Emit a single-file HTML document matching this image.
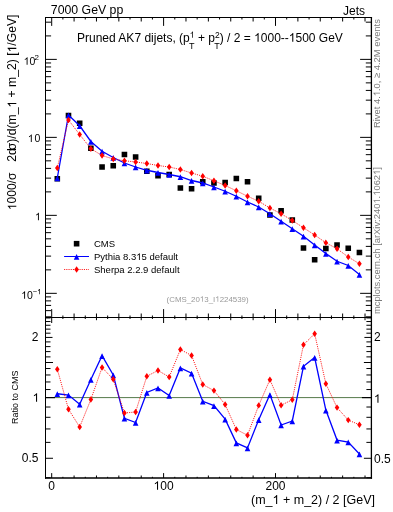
<!DOCTYPE html><html><head><meta charset="utf-8"><style>html,body{margin:0;padding:0;background:#fff;width:393px;height:512px;overflow:hidden}svg{display:block;will-change:transform}.h1{fill-opacity:0}text{font-family:"Liberation Sans",sans-serif;fill:#000}</style></head><body>
<svg width="393" height="512" viewBox="0 0 393 512">
<line x1="45.50" y1="397.60" x2="371.40" y2="397.60" stroke="#557a4a" stroke-width="1" />
<path d="M51.70 17.50L51.70 25.90M51.70 317.50L51.70 309.10M51.70 317.50L51.70 323.00M51.70 478.00L51.70 473.10M62.89 17.50L62.89 19.50M62.89 317.50L62.89 315.50M62.89 317.50L62.89 319.00M62.89 478.00L62.89 476.80M74.08 17.50L74.08 21.50M74.08 317.50L74.08 313.50M74.08 317.50L74.08 320.20M74.08 478.00L74.08 475.50M85.27 17.50L85.27 19.50M85.27 317.50L85.27 315.50M85.27 317.50L85.27 319.00M85.27 478.00L85.27 476.80M96.46 17.50L96.46 21.50M96.46 317.50L96.46 313.50M96.46 317.50L96.46 320.20M96.46 478.00L96.46 475.50M107.65 17.50L107.65 19.50M107.65 317.50L107.65 315.50M107.65 317.50L107.65 319.00M107.65 478.00L107.65 476.80M118.84 17.50L118.84 21.50M118.84 317.50L118.84 313.50M118.84 317.50L118.84 320.20M118.84 478.00L118.84 475.50M130.03 17.50L130.03 19.50M130.03 317.50L130.03 315.50M130.03 317.50L130.03 319.00M130.03 478.00L130.03 476.80M141.22 17.50L141.22 21.50M141.22 317.50L141.22 313.50M141.22 317.50L141.22 320.20M141.22 478.00L141.22 475.50M152.41 17.50L152.41 19.50M152.41 317.50L152.41 315.50M152.41 317.50L152.41 319.00M152.41 478.00L152.41 476.80M163.60 17.50L163.60 25.90M163.60 317.50L163.60 309.10M163.60 317.50L163.60 323.00M163.60 478.00L163.60 473.10M174.79 17.50L174.79 19.50M174.79 317.50L174.79 315.50M174.79 317.50L174.79 319.00M174.79 478.00L174.79 476.80M185.98 17.50L185.98 21.50M185.98 317.50L185.98 313.50M185.98 317.50L185.98 320.20M185.98 478.00L185.98 475.50M197.17 17.50L197.17 19.50M197.17 317.50L197.17 315.50M197.17 317.50L197.17 319.00M197.17 478.00L197.17 476.80M208.36 17.50L208.36 21.50M208.36 317.50L208.36 313.50M208.36 317.50L208.36 320.20M208.36 478.00L208.36 475.50M219.55 17.50L219.55 19.50M219.55 317.50L219.55 315.50M219.55 317.50L219.55 319.00M219.55 478.00L219.55 476.80M230.74 17.50L230.74 21.50M230.74 317.50L230.74 313.50M230.74 317.50L230.74 320.20M230.74 478.00L230.74 475.50M241.93 17.50L241.93 19.50M241.93 317.50L241.93 315.50M241.93 317.50L241.93 319.00M241.93 478.00L241.93 476.80M253.12 17.50L253.12 21.50M253.12 317.50L253.12 313.50M253.12 317.50L253.12 320.20M253.12 478.00L253.12 475.50M264.31 17.50L264.31 19.50M264.31 317.50L264.31 315.50M264.31 317.50L264.31 319.00M264.31 478.00L264.31 476.80M275.50 17.50L275.50 25.90M275.50 317.50L275.50 309.10M275.50 317.50L275.50 323.00M275.50 478.00L275.50 473.10M286.69 17.50L286.69 19.50M286.69 317.50L286.69 315.50M286.69 317.50L286.69 319.00M286.69 478.00L286.69 476.80M297.88 17.50L297.88 21.50M297.88 317.50L297.88 313.50M297.88 317.50L297.88 320.20M297.88 478.00L297.88 475.50M309.07 17.50L309.07 19.50M309.07 317.50L309.07 315.50M309.07 317.50L309.07 319.00M309.07 478.00L309.07 476.80M320.26 17.50L320.26 21.50M320.26 317.50L320.26 313.50M320.26 317.50L320.26 320.20M320.26 478.00L320.26 475.50M331.45 17.50L331.45 19.50M331.45 317.50L331.45 315.50M331.45 317.50L331.45 319.00M331.45 478.00L331.45 476.80M342.64 17.50L342.64 21.50M342.64 317.50L342.64 313.50M342.64 317.50L342.64 320.20M342.64 478.00L342.64 475.50M353.83 17.50L353.83 19.50M353.83 317.50L353.83 315.50M353.83 317.50L353.83 319.00M353.83 478.00L353.83 476.80M365.02 17.50L365.02 21.50M365.02 317.50L365.02 313.50M365.02 317.50L365.02 320.20M365.02 478.00L365.02 475.50M45.50 316.80L51.10 316.80M371.40 316.80L365.80 316.80M45.50 310.63L51.10 310.63M371.40 310.63L365.80 310.63M45.50 305.41L51.10 305.41M371.40 305.41L365.80 305.41M45.50 300.89L51.10 300.89M371.40 300.89L365.80 300.89M45.50 296.90L51.10 296.90M371.40 296.90L365.80 296.90M45.50 293.33L56.80 293.33M371.40 293.33L360.10 293.33M45.50 269.86L51.10 269.86M371.40 269.86L365.80 269.86M45.50 256.12L51.10 256.12M371.40 256.12L365.80 256.12M45.50 246.38L51.10 246.38M371.40 246.38L365.80 246.38M45.50 238.82L51.10 238.82M371.40 238.82L365.80 238.82M45.50 232.65L51.10 232.65M371.40 232.65L365.80 232.65M45.50 227.43L51.10 227.43M371.40 227.43L365.80 227.43M45.50 222.91L51.10 222.91M371.40 222.91L365.80 222.91M45.50 218.92L51.10 218.92M371.40 218.92L365.80 218.92M45.50 215.35L56.80 215.35M371.40 215.35L360.10 215.35M45.50 191.88L51.10 191.88M371.40 191.88L365.80 191.88M45.50 178.14L51.10 178.14M371.40 178.14L365.80 178.14M45.50 168.40L51.10 168.40M371.40 168.40L365.80 168.40M45.50 160.84L51.10 160.84M371.40 160.84L365.80 160.84M45.50 154.67L51.10 154.67M371.40 154.67L365.80 154.67M45.50 149.45L51.10 149.45M371.40 149.45L365.80 149.45M45.50 144.93L51.10 144.93M371.40 144.93L365.80 144.93M45.50 140.94L51.10 140.94M371.40 140.94L365.80 140.94M45.50 137.37L56.80 137.37M371.40 137.37L360.10 137.37M45.50 113.90L51.10 113.90M371.40 113.90L365.80 113.90M45.50 100.16L51.10 100.16M371.40 100.16L365.80 100.16M45.50 90.42L51.10 90.42M371.40 90.42L365.80 90.42M45.50 82.86L51.10 82.86M371.40 82.86L365.80 82.86M45.50 76.69L51.10 76.69M371.40 76.69L365.80 76.69M45.50 71.47L51.10 71.47M371.40 71.47L365.80 71.47M45.50 66.95L51.10 66.95M371.40 66.95L365.80 66.95M45.50 62.96L51.10 62.96M371.40 62.96L365.80 62.96M45.50 59.39L56.80 59.39M371.40 59.39L360.10 59.39M45.50 35.92L51.10 35.92M371.40 35.92L365.80 35.92M45.50 22.18L51.10 22.18M371.40 22.18L365.80 22.18M45.50 477.72L50.50 477.72M371.40 477.72L366.40 477.72M45.50 458.27L53.00 458.27M371.40 458.27L363.90 458.27M45.50 442.38L50.50 442.38M371.40 442.38L366.40 442.38M45.50 428.94L50.50 428.94M371.40 428.94L366.40 428.94M45.50 417.30L50.50 417.30M371.40 417.30L366.40 417.30M45.50 407.03L50.50 407.03M371.40 407.03L366.40 407.03M45.50 389.54L50.50 389.54M371.40 389.54L366.40 389.54M45.50 381.96L50.50 381.96M371.40 381.96L366.40 381.96M45.50 374.98L50.50 374.98M371.40 374.98L366.40 374.98M45.50 368.52L50.50 368.52M371.40 368.52L366.40 368.52M45.50 362.51L53.00 362.51M371.40 362.51L363.90 362.51M45.50 356.88L50.50 356.88M371.40 356.88L366.40 356.88M45.50 351.60L50.50 351.60M371.40 351.60L366.40 351.60M45.50 346.62L50.50 346.62M371.40 346.62L366.40 346.62M45.50 341.90L50.50 341.90M371.40 341.90L366.40 341.90M45.50 337.43L52.50 337.43M371.40 337.43L364.40 337.43M45.50 333.18L50.50 333.18M371.40 333.18L366.40 333.18M45.50 329.13L50.50 329.13M371.40 329.13L366.40 329.13M45.50 325.25L50.50 325.25M371.40 325.25L366.40 325.25M45.50 321.54L50.50 321.54M371.40 321.54L366.40 321.54M45.50 317.98L50.50 317.98M371.40 317.98L366.40 317.98" stroke="#000" stroke-width="1" fill="none"/>
<line x1="45.50" y1="397.60" x2="55.00" y2="397.60" stroke="#000" stroke-width="1.2" />
<line x1="361.90" y1="397.60" x2="371.40" y2="397.60" stroke="#000" stroke-width="1.2" />
<line x1="45.50" y1="17.50" x2="372.05" y2="17.50" stroke="#000" stroke-width="1" />
<line x1="45.50" y1="17.00" x2="45.50" y2="478.80" stroke="#000" stroke-width="1" />
<line x1="371.40" y1="17.00" x2="371.40" y2="478.80" stroke="#000" stroke-width="1.3" />
<line x1="45.00" y1="478.00" x2="372.05" y2="478.00" stroke="#000" stroke-width="1.6" />
<line x1="45.50" y1="317.50" x2="371.40" y2="317.50" stroke="#000" stroke-width="1.1" />
<path d="M54.50 175.95h5.6v5.6h-5.6ZM65.69 112.70h5.6v5.6h-5.6ZM76.88 120.45h5.6v5.6h-5.6ZM88.07 145.45h5.6v5.6h-5.6ZM99.26 164.20h5.6v5.6h-5.6ZM110.45 162.95h5.6v5.6h-5.6ZM121.64 151.70h5.6v5.6h-5.6ZM132.82 154.20h5.6v5.6h-5.6ZM144.01 168.45h5.6v5.6h-5.6ZM155.20 172.95h5.6v5.6h-5.6ZM166.39 171.70h5.6v5.6h-5.6ZM177.58 185.20h5.6v5.6h-5.6ZM188.77 185.95h5.6v5.6h-5.6ZM199.96 178.95h5.6v5.6h-5.6ZM211.15 180.20h5.6v5.6h-5.6ZM222.34 179.70h5.6v5.6h-5.6ZM233.53 175.70h5.6v5.6h-5.6ZM244.72 178.95h5.6v5.6h-5.6ZM255.91 195.45h5.6v5.6h-5.6ZM267.11 212.20h5.6v5.6h-5.6ZM278.30 207.95h5.6v5.6h-5.6ZM289.49 217.20h5.6v5.6h-5.6ZM300.68 245.20h5.6v5.6h-5.6ZM311.86 256.95h5.6v5.6h-5.6ZM323.05 245.70h5.6v5.6h-5.6ZM334.24 242.20h5.6v5.6h-5.6ZM345.44 245.45h5.6v5.6h-5.6ZM356.62 249.70h5.6v5.6h-5.6Z" fill="#000"/>
<polyline points="57.30,178.00 68.48,115.00 79.68,125.75 90.87,141.50 102.06,151.25 113.25,157.50 124.44,163.00 135.62,167.00 146.81,170.25 158.00,172.50 169.19,174.50 180.38,176.75 191.57,180.50 202.76,183.00 213.95,187.00 225.14,191.25 236.33,196.25 247.52,202.00 258.71,207.00 269.91,213.75 281.10,221.25 292.29,228.75 303.48,236.25 314.66,245.00 325.85,253.50 337.04,261.25 348.24,265.50 359.43,274.50" fill="none" stroke="#00f" stroke-width="1.3"/>
<path d="M57.30 175.60L60.09 181.30L54.50 181.30ZM68.48 112.60L71.28 118.30L65.69 118.30ZM79.68 123.35L82.48 129.05L76.88 129.05ZM90.87 139.10L93.67 144.80L88.07 144.80ZM102.06 148.85L104.86 154.55L99.26 154.55ZM113.25 155.10L116.05 160.80L110.45 160.80ZM124.44 160.60L127.23 166.30L121.64 166.30ZM135.62 164.60L138.43 170.30L132.82 170.30ZM146.81 167.85L149.62 173.55L144.01 173.55ZM158.00 170.10L160.81 175.80L155.20 175.80ZM169.19 172.10L172.00 177.80L166.39 177.80ZM180.38 174.35L183.19 180.05L177.58 180.05ZM191.57 178.10L194.38 183.80L188.77 183.80ZM202.76 180.60L205.56 186.30L199.96 186.30ZM213.95 184.60L216.75 190.30L211.15 190.30ZM225.14 188.85L227.94 194.55L222.34 194.55ZM236.33 193.85L239.13 199.55L233.53 199.55ZM247.52 199.60L250.32 205.30L244.72 205.30ZM258.71 204.60L261.51 210.30L255.91 210.30ZM269.91 211.35L272.71 217.05L267.11 217.05ZM281.10 218.85L283.90 224.55L278.30 224.55ZM292.29 226.35L295.09 232.05L289.49 232.05ZM303.48 233.85L306.28 239.55L300.68 239.55ZM314.66 242.60L317.46 248.30L311.86 248.30ZM325.85 251.10L328.65 256.80L323.05 256.80ZM337.04 258.85L339.84 264.55L334.24 264.55ZM348.24 263.10L351.04 268.80L345.44 268.80ZM359.43 272.10L362.23 277.80L356.62 277.80Z" fill="#00f"/>
<polyline points="57.30,168.00 68.48,120.00 79.68,134.50 90.87,148.75 102.06,155.50 113.25,159.00 124.44,160.75 135.62,162.00 146.81,163.50 158.00,165.50 169.19,167.00 180.38,169.50 191.57,173.00 202.76,176.25 213.95,180.75 225.14,185.50 236.33,190.75 247.52,196.25 258.71,201.25 269.91,208.00 281.10,213.75 292.29,220.50 303.48,227.75 314.66,235.00 325.85,242.75 337.04,248.75 348.24,257.00 359.43,263.75" fill="none" stroke="#f00" stroke-width="0.9" stroke-dasharray="1.1,1.1"/>
<path d="M57.30 164.80L59.59 168.00L57.30 171.20L55.00 168.00ZM68.48 116.80L70.78 120.00L68.48 123.20L66.19 120.00ZM79.68 131.30L81.98 134.50L79.68 137.70L77.38 134.50ZM90.87 145.55L93.17 148.75L90.87 151.95L88.57 148.75ZM102.06 152.30L104.36 155.50L102.06 158.70L99.76 155.50ZM113.25 155.80L115.55 159.00L113.25 162.20L110.95 159.00ZM124.44 157.55L126.73 160.75L124.44 163.95L122.14 160.75ZM135.62 158.80L137.93 162.00L135.62 165.20L133.32 162.00ZM146.81 160.30L149.12 163.50L146.81 166.70L144.51 163.50ZM158.00 162.30L160.31 165.50L158.00 168.70L155.70 165.50ZM169.19 163.80L171.50 167.00L169.19 170.20L166.89 167.00ZM180.38 166.30L182.69 169.50L180.38 172.70L178.08 169.50ZM191.57 169.80L193.88 173.00L191.57 176.20L189.27 173.00ZM202.76 173.05L205.06 176.25L202.76 179.45L200.46 176.25ZM213.95 177.55L216.25 180.75L213.95 183.95L211.65 180.75ZM225.14 182.30L227.44 185.50L225.14 188.70L222.84 185.50ZM236.33 187.55L238.63 190.75L236.33 193.95L234.03 190.75ZM247.52 193.05L249.82 196.25L247.52 199.45L245.22 196.25ZM258.71 198.05L261.01 201.25L258.71 204.45L256.41 201.25ZM269.91 204.80L272.21 208.00L269.91 211.20L267.61 208.00ZM281.10 210.55L283.40 213.75L281.10 216.95L278.80 213.75ZM292.29 217.30L294.59 220.50L292.29 223.70L289.99 220.50ZM303.48 224.55L305.78 227.75L303.48 230.95L301.18 227.75ZM314.66 231.80L316.96 235.00L314.66 238.20L312.36 235.00ZM325.85 239.55L328.15 242.75L325.85 245.95L323.55 242.75ZM337.04 245.55L339.34 248.75L337.04 251.95L334.74 248.75ZM348.24 253.80L350.54 257.00L348.24 260.20L345.94 257.00ZM359.43 260.55L361.73 263.75L359.43 266.95L357.12 263.75Z" fill="#f00"/>
<polyline points="57.30,393.75 68.48,395.00 79.68,404.25 90.87,379.50 102.06,355.75 113.25,375.00 124.44,418.25 135.62,422.50 146.81,392.50 158.00,388.00 169.19,395.50 180.38,368.00 191.57,373.25 202.76,401.25 213.95,405.60 225.14,419.10 236.33,442.90 247.52,447.90 258.71,419.75 269.91,394.60 281.10,425.00 292.29,421.00 303.48,366.25 314.66,357.50 325.85,410.10 337.04,440.10 348.24,442.00 359.43,454.00" fill="none" stroke="#00f" stroke-width="1.3"/>
<path d="M57.30 391.35L60.09 397.05L54.50 397.05ZM68.48 392.60L71.28 398.30L65.69 398.30ZM79.68 401.85L82.48 407.55L76.88 407.55ZM90.87 377.10L93.67 382.80L88.07 382.80ZM102.06 353.35L104.86 359.05L99.26 359.05ZM113.25 372.60L116.05 378.30L110.45 378.30ZM124.44 415.85L127.23 421.55L121.64 421.55ZM135.62 420.10L138.43 425.80L132.82 425.80ZM146.81 390.10L149.62 395.80L144.01 395.80ZM158.00 385.60L160.81 391.30L155.20 391.30ZM169.19 393.10L172.00 398.80L166.39 398.80ZM180.38 365.60L183.19 371.30L177.58 371.30ZM191.57 370.85L194.38 376.55L188.77 376.55ZM202.76 398.85L205.56 404.55L199.96 404.55ZM213.95 403.20L216.75 408.90L211.15 408.90ZM225.14 416.70L227.94 422.40L222.34 422.40ZM236.33 440.50L239.13 446.20L233.53 446.20ZM247.52 445.50L250.32 451.20L244.72 451.20ZM258.71 417.35L261.51 423.05L255.91 423.05ZM269.91 392.20L272.71 397.90L267.11 397.90ZM281.10 422.60L283.90 428.30L278.30 428.30ZM292.29 418.60L295.09 424.30L289.49 424.30ZM303.48 363.85L306.28 369.55L300.68 369.55ZM314.66 355.10L317.46 360.80L311.86 360.80ZM325.85 407.70L328.65 413.40L323.05 413.40ZM337.04 437.70L339.84 443.40L334.24 443.40ZM348.24 439.60L351.04 445.30L345.44 445.30ZM359.43 451.60L362.23 457.30L356.62 457.30Z" fill="#00f"/>
<polyline points="57.30,369.25 68.48,409.25 79.68,427.00 90.87,399.50 102.06,367.50 113.25,379.25 124.44,413.00 135.62,412.00 146.81,376.25 158.00,370.50 169.19,377.00 180.38,349.50 191.57,355.50 202.76,384.50 213.95,390.60 225.14,404.50 236.33,429.50 247.52,435.25 258.71,405.40 269.91,379.75 281.10,405.25 292.29,399.75 303.48,344.75 314.66,333.75 325.85,383.75 337.04,407.60 348.24,420.10 359.43,424.75" fill="none" stroke="#f00" stroke-width="0.9" stroke-dasharray="1.1,1.1"/>
<path d="M57.30 366.05L59.59 369.25L57.30 372.45L55.00 369.25ZM68.48 406.05L70.78 409.25L68.48 412.45L66.19 409.25ZM79.68 423.80L81.98 427.00L79.68 430.20L77.38 427.00ZM90.87 396.30L93.17 399.50L90.87 402.70L88.57 399.50ZM102.06 364.30L104.36 367.50L102.06 370.70L99.76 367.50ZM113.25 376.05L115.55 379.25L113.25 382.45L110.95 379.25ZM124.44 409.80L126.73 413.00L124.44 416.20L122.14 413.00ZM135.62 408.80L137.93 412.00L135.62 415.20L133.32 412.00ZM146.81 373.05L149.12 376.25L146.81 379.45L144.51 376.25ZM158.00 367.30L160.31 370.50L158.00 373.70L155.70 370.50ZM169.19 373.80L171.50 377.00L169.19 380.20L166.89 377.00ZM180.38 346.30L182.69 349.50L180.38 352.70L178.08 349.50ZM191.57 352.30L193.88 355.50L191.57 358.70L189.27 355.50ZM202.76 381.30L205.06 384.50L202.76 387.70L200.46 384.50ZM213.95 387.40L216.25 390.60L213.95 393.80L211.65 390.60ZM225.14 401.30L227.44 404.50L225.14 407.70L222.84 404.50ZM236.33 426.30L238.63 429.50L236.33 432.70L234.03 429.50ZM247.52 432.05L249.82 435.25L247.52 438.45L245.22 435.25ZM258.71 402.20L261.01 405.40L258.71 408.60L256.41 405.40ZM269.91 376.55L272.21 379.75L269.91 382.95L267.61 379.75ZM281.10 402.05L283.40 405.25L281.10 408.45L278.80 405.25ZM292.29 396.55L294.59 399.75L292.29 402.95L289.99 399.75ZM303.48 341.55L305.78 344.75L303.48 347.95L301.18 344.75ZM314.66 330.55L316.96 333.75L314.66 336.95L312.36 333.75ZM325.85 380.55L328.15 383.75L325.85 386.95L323.55 383.75ZM337.04 404.40L339.34 407.60L337.04 410.80L334.74 407.60ZM348.24 416.90L350.54 420.10L348.24 423.30L345.94 420.10ZM359.43 421.55L361.73 424.75L359.43 427.95L357.12 424.75Z" fill="#f00"/>
<path d="M73.8 240.9h5.6v5.6h-5.6Z" fill="#000"/>
<line x1="64.10" y1="256.50" x2="89.00" y2="256.50" stroke="#00f" stroke-width="1" />
<path d="M76.60 254.10L79.40 259.80L73.80 259.80Z" fill="#00f"/>
<line x1="64.10" y1="269.50" x2="89.00" y2="269.50" stroke="#f00" stroke-width="0.9" stroke-dasharray="1.1,1.1"/>
<path d="M76.60 266.30L78.90 269.50L76.60 272.70L74.30 269.50Z" fill="#f00"/>
<text x="94" y="247.3" font-size="9.5">CMS</text>
<text x="94" y="260" font-size="9.5">Pythia 8.3<tspan class="h1">1</tspan>5 default</text>
<text x="94" y="272.8" font-size="9.5">Sherpa 2.2.9 default</text>
<text x="50.8" y="13.8" font-size="12.3">7000 GeV pp</text>
<text x="365" y="14.5" font-size="12" text-anchor="end">Jets</text>
<text x="77" y="41.7" font-size="12">Pruned AK7 dijets, (p<tspan dy="-4" font-size="8.5"><tspan class="h1">1</tspan></tspan><tspan dx="-5.4" dy="10.8" font-size="9">T</tspan><tspan dy="-6.8"> + p</tspan><tspan dy="-4" font-size="8.5">2</tspan><tspan dx="-5.4" dy="10.8" font-size="9">T</tspan><tspan dy="-6.8">) / 2 = <tspan class="h1">1</tspan>000--<tspan class="h1">1</tspan>500 GeV</tspan></text>
<text x="207.6" y="301.8" font-size="7.9" fill="#999" text-anchor="middle" style="fill:#999">(CMS_20<tspan class="h1">1</tspan>3_I<tspan class="h1">1</tspan>224539)</text>
<text transform="translate(16.3,210.1) rotate(-90)" font-size="12"><tspan class="h1">1</tspan>000/σ</text>
<text transform="translate(16.3,161.8) rotate(-90)" font-size="12.18">2d<tspan dx="-2">σ</tspan>)/d(m_<tspan class="h1">1</tspan> + m_2) [<tspan class="h1">1</tspan>/GeV]</text>
<text transform="translate(18.3,424) rotate(-90)" font-size="9">Ratio to CMS</text>
<text transform="translate(380.0,128) rotate(-90)" font-size="9.4" style="fill:#7a7a7a">Rivet 4.<tspan class="h1">1</tspan>.0, ≥ 4.2M events</text>
<text transform="translate(380.0,314.1) rotate(-90)" font-size="9.4" style="fill:#7a7a7a">mcplots.cern.ch [arXiv:240<tspan class="h1">1</tspan>.<tspan class="h1">1</tspan>062<tspan class="h1">1</tspan>]</text>
<text x="23.64" y="64.8" font-size="10.5"><tspan class="h1">1</tspan>0<tspan dx="-0.75" dy="-4.5" font-size="8">2</tspan></text>
<text x="27.84" y="142" font-size="10.5"><tspan class="h1">1</tspan><tspan dx="0.76">0</tspan></text>
<text x="40.8" y="220.3" font-size="10.5" text-anchor="end"><tspan class="h1">1</tspan></text>
<text x="21.15" y="298.8" font-size="10.5"><tspan class="h1">1</tspan>0<tspan dx="-0.05" dy="-4.5" font-size="7.5">−<tspan class="h1">1</tspan></tspan></text>
<text x="38.5" y="341.33" font-size="12" text-anchor="end">2</text>
<text x="374" y="340.53" font-size="12">2</text>
<text x="39.3" y="401.75" font-size="12" text-anchor="end"><tspan class="h1">1</tspan></text>
<text x="374" y="402.75" font-size="12"><tspan class="h1">1</tspan></text>
<text x="38.5" y="462.17" font-size="12" text-anchor="end">0.5</text>
<text x="374" y="463.17" font-size="12">0.5</text>
<text x="51.70" y="489.8" font-size="12" text-anchor="middle">0</text>
<text x="163.60" y="489.8" font-size="12" text-anchor="middle"><tspan class="h1">1</tspan>00</text>
<text x="275.50" y="489.8" font-size="12" text-anchor="middle">200</text>
<text x="375" y="504" font-size="12.5" text-anchor="end">(m_<tspan class="h1">1</tspan> + m_2) / 2 [GeV]</text>
<path transform=" translate(136.25,260.00) scale(0.00464,-0.00464)" d="M763 0L583 0L583 1147Q518 1085 412 1023Q307 961 221 930L221 1104Q376 1177 492 1279Q608 1381 656 1466L763 1466Z" style="fill:rgb(0, 0, 0)"/>
<path transform=" translate(189.73,37.70) scale(0.00415,-0.00415)" d="M763 0L583 0L583 1147Q518 1085 412 1023Q307 961 221 930L221 1104Q376 1177 492 1279Q608 1381 656 1466L763 1466Z" style="fill:rgb(0, 0, 0)"/>
<path transform=" translate(254.12,41.70) scale(0.00586,-0.00586)" d="M763 0L583 0L583 1147Q518 1085 412 1023Q307 961 221 930L221 1104Q376 1177 492 1279Q608 1381 656 1466L763 1466Z" style="fill:rgb(0, 0, 0)"/>
<path transform=" translate(288.83,41.70) scale(0.00586,-0.00586)" d="M763 0L583 0L583 1147Q518 1085 412 1023Q307 961 221 930L221 1104Q376 1177 492 1279Q608 1381 656 1466L763 1466Z" style="fill:rgb(0, 0, 0)"/>
<path transform=" translate(199.90,301.80) scale(0.00386,-0.00386)" d="M763 0L583 0L583 1147Q518 1085 412 1023Q307 961 221 930L221 1104Q376 1177 492 1279Q608 1381 656 1466L763 1466Z" style="fill:rgb(153, 153, 153)"/>
<path transform=" translate(215.27,301.80) scale(0.00386,-0.00386)" d="M763 0L583 0L583 1147Q518 1085 412 1023Q307 961 221 930L221 1104Q376 1177 492 1279Q608 1381 656 1466L763 1466Z" style="fill:rgb(153, 153, 153)"/>
<path transform="translate(16.3,210.1) rotate(-90) translate(0.00,0.00) scale(0.00586,-0.00586)" d="M763 0L583 0L583 1147Q518 1085 412 1023Q307 961 221 930L221 1104Q376 1177 492 1279Q608 1381 656 1466L763 1466Z" style="fill:rgb(0, 0, 0)"/>
<path transform="translate(16.3,161.8) rotate(-90) translate(54.23,0.00) scale(0.00595,-0.00595)" d="M763 0L583 0L583 1147Q518 1085 412 1023Q307 961 221 930L221 1104Q376 1177 492 1279Q608 1381 656 1466L763 1466Z" style="fill:rgb(0, 0, 0)"/>
<path transform="translate(16.3,161.8) rotate(-90) translate(109.39,0.00) scale(0.00595,-0.00595)" d="M763 0L583 0L583 1147Q518 1085 412 1023Q307 961 221 930L221 1104Q376 1177 492 1279Q608 1381 656 1466L763 1466Z" style="fill:rgb(0, 0, 0)"/>
<path transform="translate(380.0,128) rotate(-90) translate(31.80,0.00) scale(0.00459,-0.00459)" d="M763 0L583 0L583 1147Q518 1085 412 1023Q307 961 221 930L221 1104Q376 1177 492 1279Q608 1381 656 1466L763 1466Z" style="fill:rgb(122, 122, 122)"/>
<path transform="translate(380.0,314.1) rotate(-90) translate(110.47,0.00) scale(0.00459,-0.00459)" d="M763 0L583 0L583 1147Q518 1085 412 1023Q307 961 221 930L221 1104Q376 1177 492 1279Q608 1381 656 1466L763 1466Z" style="fill:rgb(122, 122, 122)"/>
<path transform="translate(380.0,314.1) rotate(-90) translate(118.30,0.00) scale(0.00459,-0.00459)" d="M763 0L583 0L583 1147Q518 1085 412 1023Q307 961 221 930L221 1104Q376 1177 492 1279Q608 1381 656 1466L763 1466Z" style="fill:rgb(122, 122, 122)"/>
<path transform="translate(380.0,314.1) rotate(-90) translate(139.17,0.00) scale(0.00459,-0.00459)" d="M763 0L583 0L583 1147Q518 1085 412 1023Q307 961 221 930L221 1104Q376 1177 492 1279Q608 1381 656 1466L763 1466Z" style="fill:rgb(122, 122, 122)"/>
<path transform=" translate(23.64,64.80) scale(0.00513,-0.00513)" d="M763 0L583 0L583 1147Q518 1085 412 1023Q307 961 221 930L221 1104Q376 1177 492 1279Q608 1381 656 1466L763 1466Z" style="fill:rgb(0, 0, 0)"/>
<path transform=" translate(27.84,142.00) scale(0.00513,-0.00513)" d="M763 0L583 0L583 1147Q518 1085 412 1023Q307 961 221 930L221 1104Q376 1177 492 1279Q608 1381 656 1466L763 1466Z" style="fill:rgb(0, 0, 0)"/>
<path transform=" translate(34.96,220.30) scale(0.00513,-0.00513)" d="M763 0L583 0L583 1147Q518 1085 412 1023Q307 961 221 930L221 1104Q376 1177 492 1279Q608 1381 656 1466L763 1466Z" style="fill:rgb(0, 0, 0)"/>
<path transform=" translate(21.15,298.80) scale(0.00513,-0.00513)" d="M763 0L583 0L583 1147Q518 1085 412 1023Q307 961 221 930L221 1104Q376 1177 492 1279Q608 1381 656 1466L763 1466Z" style="fill:rgb(0, 0, 0)"/>
<path transform=" translate(37.18,294.30) scale(0.00366,-0.00366)" d="M763 0L583 0L583 1147Q518 1085 412 1023Q307 961 221 930L221 1104Q376 1177 492 1279Q608 1381 656 1466L763 1466Z" style="fill:rgb(0, 0, 0)"/>
<path transform=" translate(32.61,401.75) scale(0.00586,-0.00586)" d="M763 0L583 0L583 1147Q518 1085 412 1023Q307 961 221 930L221 1104Q376 1177 492 1279Q608 1381 656 1466L763 1466Z" style="fill:rgb(0, 0, 0)"/>
<path transform=" translate(374.00,402.75) scale(0.00586,-0.00586)" d="M763 0L583 0L583 1147Q518 1085 412 1023Q307 961 221 930L221 1104Q376 1177 492 1279Q608 1381 656 1466L763 1466Z" style="fill:rgb(0, 0, 0)"/>
<path transform=" translate(153.58,489.80) scale(0.00586,-0.00586)" d="M763 0L583 0L583 1147Q518 1085 412 1023Q307 961 221 930L221 1104Q376 1177 492 1279Q608 1381 656 1466L763 1466Z" style="fill:rgb(0, 0, 0)"/>
<path transform=" translate(272.52,504.00) scale(0.00610,-0.00610)" d="M763 0L583 0L583 1147Q518 1085 412 1023Q307 961 221 930L221 1104Q376 1177 492 1279Q608 1381 656 1466L763 1466Z" style="fill:rgb(0, 0, 0)"/>
</svg></body></html>
